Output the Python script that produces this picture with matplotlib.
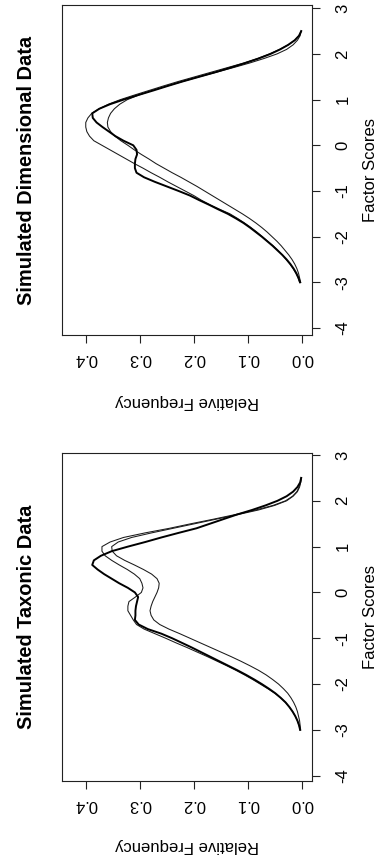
import matplotlib
matplotlib.use("Agg")
import matplotlib.pyplot as plt
import numpy as np

plt.rcParams['font.family'] = ['Liberation Sans', 'DejaVu Sans']

# factor score grid the curves were read at
scores = np.round(np.arange(-3.0, 2.51, 0.1), 1)

# Simulated Dimensional Data (relative frequency)
dim_thick = [0.003, 0.006, 0.010, 0.015, 0.021, 0.028, 0.036, 0.045, 0.054, 0.064,
             0.074, 0.085, 0.096, 0.108, 0.122, 0.137, 0.155, 0.172, 0.190, 0.207,
             0.228, 0.250, 0.272, 0.292, 0.306, 0.309, 0.309, 0.308, 0.305, 0.306,
             0.312, 0.330, 0.345, 0.357, 0.369, 0.380, 0.387, 0.388, 0.375, 0.355,
             0.330, 0.303, 0.275, 0.248, 0.220, 0.190, 0.160, 0.132, 0.105, 0.080,
             0.058, 0.040, 0.025, 0.013, 0.005, 0.001]
dim_thin_a = [0.004, 0.007, 0.011, 0.016, 0.022, 0.029, 0.036, 0.044, 0.053, 0.063,
              0.073, 0.083, 0.094, 0.106, 0.119, 0.133, 0.152, 0.170, 0.186, 0.200,
              0.216, 0.232, 0.248, 0.263, 0.279, 0.294, 0.310, 0.325, 0.340, 0.355,
              0.370, 0.385, 0.393, 0.398, 0.400, 0.400, 0.396, 0.389, 0.375, 0.358,
              0.336, 0.310, 0.283, 0.256, 0.228, 0.198, 0.168, 0.138, 0.108, 0.082,
              0.060, 0.041, 0.025, 0.013, 0.005, 0.001]
dim_thin_b = [0.002, 0.004, 0.006, 0.009, 0.013, 0.018, 0.024, 0.031, 0.038, 0.046,
              0.055, 0.064, 0.074, 0.085, 0.097, 0.110, 0.124, 0.138, 0.152, 0.166,
              0.180, 0.194, 0.209, 0.224, 0.240, 0.255, 0.270, 0.283, 0.297, 0.310,
              0.322, 0.335, 0.346, 0.354, 0.359, 0.360, 0.358, 0.354, 0.347, 0.337,
              0.323, 0.302, 0.277, 0.249, 0.220, 0.190, 0.158, 0.127, 0.097, 0.070,
              0.046, 0.028, 0.016, 0.008, 0.003, 0.001]

# Simulated Taxonic Data (relative frequency)
tax_thick = [0.003, 0.005, 0.008, 0.012, 0.017, 0.023, 0.030, 0.039, 0.049, 0.061,
             0.074, 0.088, 0.103, 0.119, 0.136, 0.153, 0.170, 0.187, 0.204, 0.222,
             0.240, 0.260, 0.285, 0.302, 0.309, 0.308, 0.308, 0.307, 0.305, 0.303,
             0.309, 0.322, 0.338, 0.352, 0.366, 0.378, 0.388, 0.385, 0.372, 0.352,
             0.322, 0.290, 0.260, 0.228, 0.195, 0.170, 0.145, 0.120, 0.092, 0.067,
             0.045, 0.028, 0.016, 0.008, 0.003, 0.001]
tax_thin_a = [0.003, 0.005, 0.008, 0.012, 0.017, 0.023, 0.030, 0.039, 0.050, 0.063,
              0.077, 0.091, 0.106, 0.122, 0.139, 0.157, 0.175, 0.194, 0.213, 0.233,
              0.252, 0.272, 0.292, 0.306, 0.312, 0.317, 0.322, 0.322, 0.320, 0.308,
              0.297, 0.294, 0.296, 0.300, 0.310, 0.323, 0.338, 0.352, 0.364, 0.370,
              0.370, 0.355, 0.330, 0.290, 0.245, 0.205, 0.163, 0.123, 0.085, 0.053,
              0.030, 0.017, 0.009, 0.005, 0.002, 0.001]
tax_thin_b = [0.002, 0.003, 0.004, 0.006, 0.008, 0.011, 0.015, 0.020, 0.026, 0.034,
              0.043, 0.054, 0.066, 0.080, 0.096, 0.113, 0.131, 0.150, 0.169, 0.188,
              0.207, 0.226, 0.246, 0.263, 0.274, 0.279, 0.281, 0.279, 0.276, 0.272,
              0.268, 0.265, 0.264, 0.268, 0.278, 0.293, 0.310, 0.328, 0.343, 0.351,
              0.352, 0.340, 0.315, 0.278, 0.238, 0.198, 0.158, 0.118, 0.080, 0.050,
              0.028, 0.016, 0.008, 0.004, 0.002, 0.001]

freq_ticks = [0.0, 0.1, 0.2, 0.3, 0.4]
freq_labels = ["0.0", "0.1", "0.2", "0.3", "0.4"]
score_ticks = [-4, -3, -2, -1, 0, 1, 2, 3]
score_labels = ["-4", "-3", "-2", "-1", "0", "1", "2", "3"]

W, H = 379, 857
fig = plt.figure(figsize=(W / 100, H / 100), dpi=100)


def px_axes(x0, y0, x1, y1):
    return fig.add_axes([x0 / W, 1 - y1 / H, (x1 - x0) / W, (y1 - y0) / H])


# the chart is the R figure turned a quarter turn anticlockwise
panels = [
    ("Simulated Dimensional Data", 5, 335, 401, (-4.153, 3.072),
     dim_thick, dim_thin_a, dim_thin_b),
    ("Simulated Taxonic Data", 452.7, 781, 846, (-4.116, 3.05),
     tax_thick, tax_thin_a, tax_thin_b),
]

for title, top, bottom, lab_y, ylim, thick, thin_a, thin_b in panels:
    ax = px_axes(62, top, 312, bottom)
    ax.plot(thin_a, scores, color='#1a1a1a', lw=0.75)
    ax.plot(thin_b, scores, color='#1a1a1a', lw=0.75)
    ax.plot(thick, scores, color='black', lw=1.4)
    ax.set_xlim(0.444, -0.019)
    ax.set_ylim(*ylim)

    for sp in ax.spines.values():
        sp.set_linewidth(0.8)
        sp.set_color('#222222')

    ax.yaxis.tick_right()
    ax.set_yticks(score_ticks)
    ax.set_yticklabels(score_labels)
    ax.set_xticks(freq_ticks)
    ax.set_xticklabels(freq_labels)
    ax.tick_params(direction='out', length=5.8, width=0.8, labelsize=12,
                   color='#222222')
    ax.tick_params(axis='y', labelrotation=90, pad=11)
    ax.tick_params(axis='x', labelrotation=180, pad=6)
    for lbl in ax.get_yticklabels():
        lbl.set_va('center')
        lbl.set_ha('left')

    mid = (top + bottom) / 2
    fig.text(27 / W, 1 - mid / H, title, rotation=90, fontsize=14.4,
             fontweight='bold', ha='center', va='center')
    fig.text(187 / W, 1 - lab_y / H, "Relative Frequency", rotation=180,
             fontsize=12, ha='center', va='center')
    fig.text(378 / W, 1 - mid / H, "Factor Scores", rotation=90,
             fontsize=12, ha='right', va='center')

fig.savefig("out.png", dpi=100)
